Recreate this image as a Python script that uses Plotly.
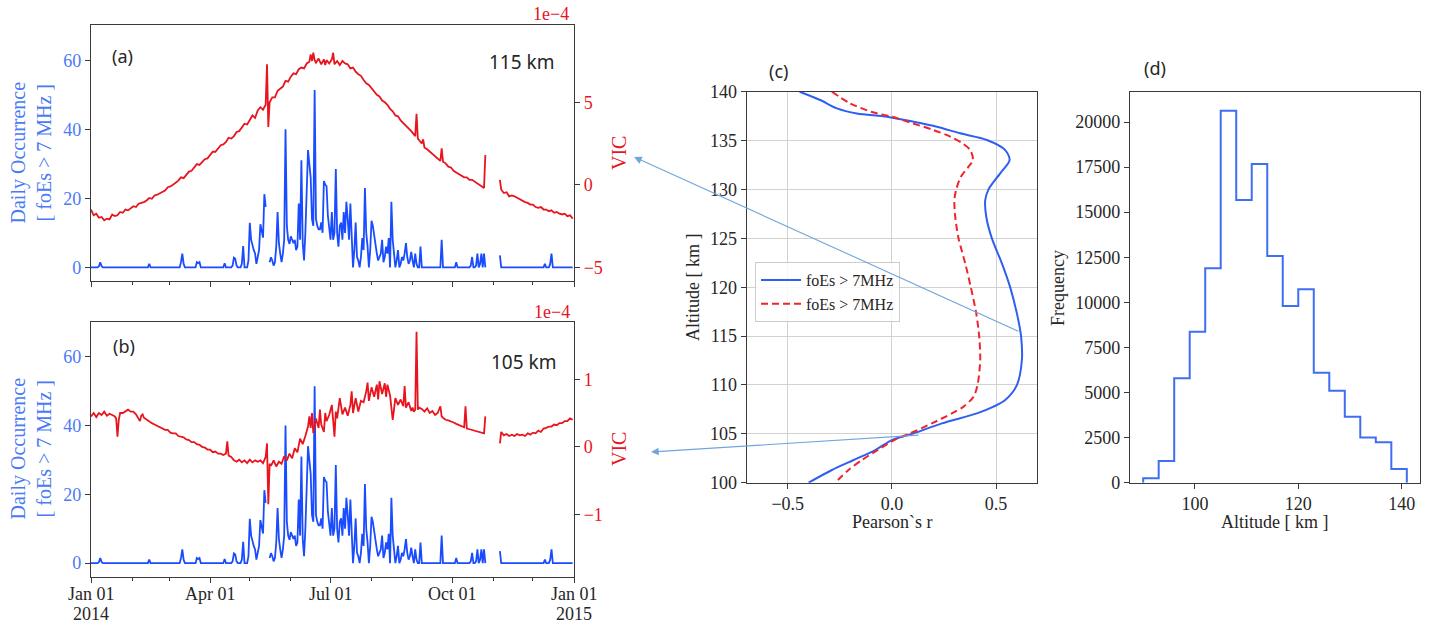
import numpy as np
import pandas as pd
import plotly.graph_objects as go

# ---------------- data ----------------
# (a)/(b) daily occurrence of foEs > 7 MHz (day-of-year index from 2014-01-01, non-zero days)
occ_days = [6, 7, 8, 44, 68, 69, 70, 80, 81, 82, 101, 107, 108, 109, 110, 114, 115,
            119, 120, 121, 122, 123, 124, 125, 126, 127, 128, 129, 130, 131, 132,
            135, 136, 137, 138, 139, 140, 141, 142, 143, 144, 145, 146, 147, 148, 149,
            150, 151, 152, 153, 154, 155, 156, 157, 158, 159, 160, 161, 162, 163, 164,
            165, 166, 167, 168, 169, 170, 171, 172, 173, 174, 175, 176, 177, 178, 179,
            180, 181, 182, 183, 184, 185, 186, 187, 188, 189, 190, 191, 192, 193, 194,
            195, 196, 197, 199, 200, 201, 202, 204, 205, 206, 207, 208, 209, 211,
            212, 213, 214, 215, 216, 217, 218, 219, 220, 221, 222, 223, 224, 225, 227,
            228, 229, 231, 232, 234, 235, 236, 237, 238, 239, 240, 241, 242, 243, 245,
            246, 249, 265, 276, 287, 288, 291, 292, 294, 295, 297, 309, 343, 347, 348]
occ_vals = [0.3, 1.5, 0.3, 1.0, 1.5, 4.0, 1.0, 1.5, 1.2, 1.5, 1.2, 0.5, 2.8, 2.5, 0.5, 1.0, 6.2,
            2.0, 12.9, 8.0, 6.0, 5.0, 4.0, 1.0, 3.0, 5.0, 12.5, 10.0, 8.6, 21.2, 17.5,
            1.5, 2.9, 2.0, 0.5, 1.5, 6.0, 16.0, 7.0, 4.0, 1.5, 4.0, 8.0, 40.0, 12.0, 8.0,
            6.8, 9.0, 7.8, 7.0, 8.0, 5.0, 6.0, 18.5, 8.0, 31.0, 7.0, 2.0, 10.0, 20.0, 34.0,
            30.0, 26.0, 14.0, 12.0, 51.4, 14.0, 12.0, 11.0, 11.0, 13.0, 10.0, 25.0, 24.0, 23.5, 15.0,
            11.0, 8.0, 16.0, 8.0, 10.0, 28.5, 10.0, 6.0, 12.0, 13.0, 8.0, 16.0, 10.0, 19.0, 14.0,
            8.0, 18.5, 6.0, 5.0, 13.0, 3.0, 2.0, 3.0, 8.5, 5.0, 23.0, 10.0, 6.0, 5.0,
            13.5, 12.0, 9.0, 6.0, 4.0, 2.0, 3.0, 4.0, 8.0, 1.5, 3.0, 6.0, 4.0, 8.5, 19.0,
            8.0, 3.0, 2.0, 5.0, 1.0, 3.0, 2.0, 4.0, 7.0, 3.0, 1.0, 2.0, 4.5, 2.0, 4.0,
            1.0, 6.0, 8.0, 1.5, 0.5, 3.0, 0.5, 4.0, 1.0, 4.0, 4.0, 3.5, 1.0, 1.0, 4.0]
occ_missing_days = [133, 134, 299, 300, 301, 302, 303, 304, 305, 306, 307, 308]

# (a) VIC at 115 km (units of 1e-4)
vic115_days = [0, 2, 4, 6, 8, 10, 12, 14, 16, 18, 20, 22, 24, 26, 28, 30, 32, 34, 36, 38,
               40, 42, 44, 46, 48, 50, 52, 54, 56, 58, 60, 62, 64, 66, 68, 70, 72, 74, 76, 78,
               80, 82, 84, 86, 88, 90, 92, 94, 96, 98, 100, 102, 104, 106, 108, 110, 112, 114,
               116, 118, 120, 122, 124, 126, 128, 130, 132, 133, 134, 135, 137, 139, 141, 143,
               145, 147, 149, 151, 153, 155, 157, 159, 161, 163, 165, 166, 167, 168, 169, 170,
               172, 174, 176, 177, 178, 180, 182, 183, 184, 186, 188, 190, 192, 194, 196, 198,
               200, 202, 204, 206, 208, 210, 212, 214, 216, 218, 220, 222, 224, 226, 228, 230,
               232, 234, 236, 238, 240, 242, 244, 245, 246, 247, 248, 250, 251, 252, 254, 256,
               258, 260, 262, 264, 265, 266, 268, 270, 272, 274, 276, 278, 280, 282, 284, 286,
               288, 290, 292, 294, 296, 297, 298, 303, 309, 310, 312, 314, 316, 318, 320, 322,
               324, 326, 328, 330, 332, 334, 336, 338, 340, 342, 344, 346, 348, 350, 352, 354,
               356, 358, 360, 362, 364]
vic115_vals = [-1.5, -1.85, -1.75, -2.0, -1.95, -2.15, -2.05, -2.1, -1.8, -1.9, -1.85, -1.65, -1.7, -1.5, -1.55, -1.45, -1.3, -1.35, -1.15, -1.1,
               -1.05, -0.95, -0.8, -0.85, -0.65, -0.6, -0.5, -0.4, -0.35, -0.15, -0.1, 0.0, 0.1, 0.25, 0.45, 0.4, 0.6, 0.8, 0.85, 1.05,
               1.25, 1.2, 1.4, 1.55, 1.6, 1.8, 2.0, 2.0, 2.2, 2.4, 2.45, 2.6, 2.85, 2.8, 2.95, 3.2, 3.25, 3.45,
               3.7, 3.65, 3.95, 4.2, 4.05, 4.5, 4.7, 4.55, 4.85, 7.3, 3.5, 5.0, 5.3, 5.3, 5.7, 5.85,
               5.95, 6.3, 6.25, 6.55, 6.75, 6.7, 7.0, 7.1, 7.05, 7.35, 7.45, 7.9, 7.5, 8.0, 7.55, 7.4,
               7.65, 7.3, 7.6, 7.25, 7.55, 7.35, 7.6, 8.0, 7.3, 7.5, 7.25, 7.5, 7.35, 7.3, 7.05, 7.1,
               6.85, 6.7, 6.6, 6.35, 6.15, 6.05, 5.85, 5.7, 5.45, 5.35, 5.1, 5.0, 4.85, 4.6, 4.45, 4.2,
               4.15, 3.9, 3.75, 3.55, 3.45, 3.25, 3.05, 2.95, 4.3, 2.8, 2.7, 2.5, 2.75, 2.25, 2.15, 2.0,
               1.85, 1.75, 1.6, 1.45, 2.2, 1.4, 1.3, 1.1, 1.05, 0.85, 0.75, 0.65, 0.55, 0.45, 0.45, 0.3,
               0.3, 0.2, 0.1, -0.05, -0.15, -0.2, 1.8, None, 0.3, -0.3, -0.5, -0.45, -0.7, -0.65, -0.7, -0.8,
               -0.85, -0.95, -1.05, -1.1, -1.2, -1.2, -1.35, -1.4, -1.35, -1.5, -1.5, -1.6, -1.55, -1.7, -1.65, -1.75,
               -1.8, -1.75, -1.9, -1.85, -2.05]

# (b) VIC at 105 km (units of 1e-4)
vic105_days = [0, 2, 4, 6, 8, 10, 12, 14, 16, 18, 19, 20, 21, 22, 24, 26, 28, 30, 32, 34,
               36, 37, 38, 39, 40, 42, 44, 46, 48, 50, 52, 54, 56, 58, 60, 62, 64, 66, 68, 70,
               72, 74, 76, 78, 80, 82, 84, 86, 88, 90, 92, 94, 96, 98, 100, 102, 103, 104, 106, 108,
               110, 112, 114, 116, 118, 120, 122, 124, 126, 128, 130, 132, 133, 134, 135, 136, 138, 140, 142, 144,
               146, 148, 150, 152, 154, 156, 158, 160, 162, 164, 165, 166, 167, 168, 170, 172, 173, 174, 176, 177,
               178, 180, 182, 183, 184, 185, 186, 188, 190, 192, 194, 196, 197, 198, 200, 202, 204, 206, 208, 209,
               210, 212, 214, 216, 217, 218, 220, 222, 223, 224, 226, 228, 230, 232, 234, 236, 237, 238, 240, 242,
               243, 244, 245, 246, 247, 248, 250, 252, 254, 256, 258, 260, 262, 264, 265, 266, 268, 270, 272, 274,
               276, 278, 280, 282, 283, 284, 286, 288, 290, 292, 294, 296, 297, 298, 303, 309, 310, 312, 314, 316,
               318, 320, 322, 324, 326, 328, 330, 332, 334, 336, 338, 340, 342, 344, 346, 348, 350, 352, 354, 356,
               358, 360, 362, 364]
vic105_vals = [0.45, 0.5, 0.44, 0.5, 0.47, 0.52, 0.46, 0.49, 0.47, 0.45, 0.42, 0.15, 0.4, 0.5, 0.5, 0.53, 0.55, 0.52, 0.52, 0.48,
               0.42, 0.38, 0.46, 0.48, 0.43, 0.4, 0.37, 0.35, 0.33, 0.31, 0.29, 0.28, 0.25, 0.25, 0.21, 0.2, 0.2, 0.16, 0.15, 0.14,
               0.11, 0.1, 0.07, 0.07, 0.04, 0.03, 0.0, -0.01, -0.04, -0.04, -0.08, -0.07, -0.1, -0.1, -0.12, -0.1, 0.08, -0.13, -0.15, -0.2,
               -0.22, -0.19, -0.23, -0.2, -0.24, -0.19, -0.23, -0.2, -0.22, -0.2, -0.24, -0.15, 0.05, -0.85, -0.25, -0.28, -0.2, -0.29, -0.22, -0.25,
               -0.14, -0.2, -0.1, -0.17, -0.02, -0.08, 0.12, 0.04, 0.16, 0.3, 0.45, 0.28, 0.5, 0.2, 0.42, 0.28, 0.55, 0.33, 0.22, 0.5,
               0.38, 0.47, 0.62, 0.38, 0.15, 0.52, 0.42, 0.72, 0.48, 0.58, 0.46, 0.62, 0.82, 0.5, 0.72, 0.52, 0.68, 0.66, 0.82, 0.95,
               0.68, 0.88, 0.74, 0.92, 0.7, 0.97, 0.78, 0.94, 0.74, 0.92, 0.76, 0.4, 0.72, 0.62, 0.7, 0.6, 0.9, 0.58, 0.66, 0.53,
               0.58, 0.52, 0.55, 1.7, 0.55, 0.58, 0.56, 0.52, 0.57, 0.5, 0.53, 0.47, 0.5, 0.6, 0.45, 0.43, 0.4, 0.39, 0.38, 0.36,
               0.34, 0.32, 0.3, 0.29, 0.6, 0.27, 0.26, 0.25, 0.24, 0.22, 0.21, 0.2, 0.2, 0.45, None, 0.05, 0.22, 0.17, 0.19, 0.16,
               0.18, 0.16, 0.19, 0.17, 0.18, 0.16, 0.2, 0.18, 0.21, 0.2, 0.24, 0.22, 0.27, 0.28, 0.3, 0.3, 0.33, 0.32, 0.35, 0.35,
               0.38, 0.38, 0.42, 0.4]

# date tick labels for panel (b)
date_tick_days = [0, 90, 181, 273, 365]
date_tick_text = ["Jan 01", "Apr 01", "Jul 01", "Oct 01", "Jan 01"]
year_tick_days = [0, 365]
year_tick_text = ["2014", "2015"]

# (c) Pearson's r vs altitude
alt_blue = [140.0, 139.15, 138.3, 137.78, 137.44, 136.93, 136.42, 135.74, 135.06, 134.03, 133.0,
            131.65, 130.01, 128.92, 127.21, 124.99, 122.44, 119.98, 117.32, 115.0, 112.55, 109.99,
            108.46, 107.78, 107.09, 106.07, 105.05, 104.36, 103.34, 102.32, 101.3, 100.0]
r_blue = [-0.443, -0.344, -0.264, -0.168, -0.024, 0.104, 0.216, 0.328, 0.456, 0.544, 0.565,
          0.52, 0.464, 0.448, 0.453, 0.48, 0.528, 0.568, 0.6, 0.62, 0.624, 0.6,
          0.544, 0.488, 0.408, 0.24, 0.104, 0.0, -0.08, -0.184, -0.288, -0.40]
alt_red = [140.0, 138.8, 137.95, 137.44, 136.76, 136.08, 135.4, 134.7, 134.03, 133.01, 132.33,
           131.3, 130.01, 128.92, 127.21, 124.99, 122.44, 119.98, 117.32, 115.0, 112.55, 109.99,
           108.8, 107.78, 107.09, 106.07, 105.05, 104.36, 103.34, 102.32, 101.3, 100.0]
r_red = [-0.288, -0.2, -0.1, 0.0, 0.1, 0.2, 0.28, 0.34, 0.376, 0.389, 0.368,
         0.331, 0.309, 0.3, 0.304, 0.32, 0.352, 0.379, 0.405, 0.419, 0.424, 0.411,
         0.392, 0.344, 0.288, 0.192, 0.088, 0.011, -0.069, -0.144, -0.208, -0.272]

# (d) histogram of altitudes
hist_edges = [90, 93, 96, 99, 102, 105, 108, 111, 114, 117, 120, 123, 126, 129, 132, 135, 138, 141]
hist_counts = [240, 1200, 5790, 8370, 11890, 20630, 15680, 17670, 12570, 9800, 10720, 6100, 5100,
               3660, 2510, 2240, 760]

# ---------------- build ----------------
W, H = 1435, 627
base = pd.Timestamp("2014-01-01")

occ = np.zeros(365)
occ[occ_days] = occ_vals
occ[occ_missing_days] = np.nan
occ_dates = base + pd.to_timedelta(np.arange(365), unit="D")
d115 = base + pd.to_timedelta(vic115_days, unit="D")
d105 = base + pd.to_timedelta(vic105_days, unit="D")
tick_dates = base + pd.to_timedelta(date_tick_days, unit="D")
year_dates = base + pd.to_timedelta(year_tick_days, unit="D")

BLUE = "#1a4cff"
BLUE_TXT = "#4a7af5"
RED = "#e8141e"
SPINE = "#3a3a3a"
SERIF = "Liberation Serif"
SANS = "Noto Sans"

def px(x):
    return x / W

def py(y):
    return 1 - y / H

fig = go.Figure()

# panel (a)
fig.add_trace(go.Scatter(x=occ_dates, y=occ, mode="lines", line=dict(color=BLUE, width=1.8),
                         xaxis="x", yaxis="y", showlegend=False))
fig.add_trace(go.Scatter(x=d115, y=vic115_vals, mode="lines", line=dict(color=RED, width=1.8),
                         xaxis="x", yaxis="y2", showlegend=False))
# panel (b)
fig.add_trace(go.Scatter(x=occ_dates, y=occ, mode="lines", line=dict(color=BLUE, width=1.8),
                         xaxis="x2", yaxis="y3", showlegend=False))
fig.add_trace(go.Scatter(x=d105, y=vic105_vals, mode="lines", line=dict(color=RED, width=1.8),
                         xaxis="x2", yaxis="y4", showlegend=False))
# panel (c)
fig.add_trace(go.Scatter(x=r_blue, y=alt_blue, mode="lines", name="foEs > 7MHz",
                         line=dict(color="#2f5ff2", width=2, shape="spline", smoothing=0.8),
                         xaxis="x3", yaxis="y5"))
fig.add_trace(go.Scatter(x=r_red, y=alt_red, mode="lines", name="foEs > 7MHz",
                         line=dict(color="#f0242c", width=2, dash="7px,4px", shape="spline", smoothing=0.8),
                         xaxis="x3", yaxis="y5"))
# panel (d) step histogram
hx = [hist_edges[0]] + hist_edges[:-1] + [hist_edges[-1], hist_edges[-1]]
hy = [0] + hist_counts + [hist_counts[-1], 0]
fig.add_trace(go.Scatter(x=hx, y=hy, mode="lines", line=dict(color="#3f6ef3", width=2, shape="hv"),
                         xaxis="x4", yaxis="y6", showlegend=False))

tickfont = dict(family=SERIF, size=18, color="#262626")
common = dict(showline=True, linecolor=SPINE, linewidth=1.2, ticks="outside", ticklen=5,
              tickcolor=SPINE, tickwidth=1.1, zeroline=False, showgrid=False, automargin=False)

minor = dict(dtick="M1", tick0="2014-01-01", ticks="outside", ticklen=3, tickcolor=SPINE, showgrid=False)

xa = [px(91), px(574)]
fig.update_layout(
    xaxis=dict(domain=xa, anchor="y", type="date", range=["2014-01-01", "2015-01-01"],
               tickvals=tick_dates, showticklabels=False, mirror=True,
               minor=minor, tickfont=tickfont, **common),
    yaxis=dict(domain=[py(281), py(25)], anchor="x", range=[-3.95, 70.2], tickvals=[0, 20, 40, 60],
               tickfont=dict(family=SERIF, size=18, color=BLUE_TXT), mirror=True, **common),
    yaxis2=dict(overlaying="y", side="right", anchor="x", range=[-5.83, 9.68], tickvals=[-5, 0, 5],
                tickfont=dict(family=SERIF, size=18, color=RED), **common),
    xaxis2=dict(domain=xa, anchor="y3", type="date", range=["2014-01-01", "2015-01-01"],
                tickvals=tick_dates, showticklabels=False, mirror=True,
                minor=minor, tickfont=tickfont, **common),
    yaxis3=dict(domain=[py(576.7), py(321.7)], anchor="x2", range=[-3.95, 70.2], tickvals=[0, 20, 40, 60],
                tickfont=dict(family=SERIF, size=18, color=BLUE_TXT), mirror=True, **common),
    yaxis4=dict(overlaying="y3", side="right", anchor="x2", range=[-1.92, 1.85], tickvals=[-1, 0, 1],
                tickfont=dict(family=SERIF, size=18, color=RED), **common),
    xaxis3=dict(domain=[px(746.7), px(1037.3)], anchor="y5", range=[-0.697, 0.698],
                tickvals=[-0.5, 0.0, 0.5], tickformat=".1f", tickfont=tickfont, mirror=True,
                **{**common, "showgrid": True}, gridcolor="#d2d2d2", gridwidth=1.4),
    yaxis5=dict(domain=[py(482.7), py(91.7)], anchor="x3", range=[100, 140],
                tickvals=[100, 105, 110, 115, 120, 125, 130, 135, 140], tickfont=tickfont, mirror=True,
                **{**common, "showgrid": True}, gridcolor="#d2d2d2", gridwidth=1.4),
    xaxis4=dict(domain=[px(1130), px(1420)], anchor="y6", range=[87.45, 143.55],
                tickvals=[100, 120, 140], tickfont=tickfont, mirror=True, **common),
    yaxis6=dict(domain=[py(482.7), py(91.7)], anchor="x4", range=[0, 21680],
                tickvals=[0, 2500, 5000, 7500, 10000, 12500, 15000, 17500, 20000], tickformat="d",
                tickfont=tickfont, mirror=True, **common),
)

ann = []

def text(x, y, s, size=18, color="#262626", family=SERIF, angle=0):
    ann.append(dict(x=px(x), y=py(y), xref="paper", yref="paper", text=s, showarrow=False,
                    xanchor="center", yanchor="middle", textangle=angle,
                    font=dict(family=family, size=size, color=color)))

# date tick labels of panel (b), placed on the x2 date axis
for d, s in zip(tick_dates, date_tick_text):
    ann.append(dict(x=d, y=py(594), xref="x2", yref="paper", text=s, showarrow=False,
                    xanchor="center", yanchor="middle", font=tickfont))
for d, s in zip(year_dates, year_tick_text):
    ann.append(dict(x=d, y=py(614), xref="x2", yref="paper", text=s, showarrow=False,
                    xanchor="center", yanchor="middle", font=tickfont))

# panel labels
text(122, 56, "(a)", size=18, family=SANS)
text(521, 62, "115 km", size=19, family=SANS)
text(124, 346, "(b)", size=18, family=SANS)
text(523, 362, "105 km", size=19, family=SANS)
text(779, 71, "(c)", size=18, family=SANS)
text(1155, 68, "(d)", size=18, family=SANS)
# axis titles
for yc in (153, 449):
    text(30.5, yc, "Daily Occurrence<br>[ foEs > 7 MHz ]", size=20, color=BLUE_TXT, angle=-90)
    text(619, yc, "VIC", size=20, color=RED, angle=-90)
text(551, 14, "1e\u22124", size=18, color=RED)
text(552, 311.7, "1e\u22124", size=18, color=RED)
text(891.7, 521.7, "Pearson`s r", size=18)
text(693, 288, "Altitude [ km ]", size=18, angle=-90)
text(1058, 288, "Frequency", size=18, angle=-90)
text(1274, 521.7, "Altitude [ km ]", size=18)

# connecting arrows
ARROW = "#6fa6dc"
ann.append(dict(x=px(634), y=py(157), xref="paper", yref="paper", ax=386, ay=175, axref="pixel",
                ayref="pixel", text="", showarrow=True, arrowhead=2, arrowsize=1.4, arrowwidth=1.1,
                arrowcolor=ARROW, standoff=0, startstandoff=0))
ann.append(dict(x=px(651), y=py(452), xref="paper", yref="paper", ax=269, ay=-17, axref="pixel",
                ayref="pixel", text="", showarrow=True, arrowhead=2, arrowsize=1.4, arrowwidth=1.1,
                arrowcolor=ARROW, standoff=0, startstandoff=0))

fig.update_layout(
    annotations=ann,
    width=W, height=H, margin=dict(l=0, r=0, t=0, b=0, pad=0, autoexpand=False),
    paper_bgcolor="white", plot_bgcolor="white",
    showlegend=True,
    legend=dict(x=px(755), y=py(262), xanchor="left", yanchor="top",
                bgcolor="rgba(255,255,255,0.85)", bordercolor="#cccccc", borderwidth=1,
                font=dict(family=SERIF, size=16, color="#262626"), tracegroupgap=2,
                itemwidth=40),
)

fig.write_html("out.html", config={"displayModeBar": False},
               post_script="document.body.style.margin='0';document.body.style.overflow='hidden';")
